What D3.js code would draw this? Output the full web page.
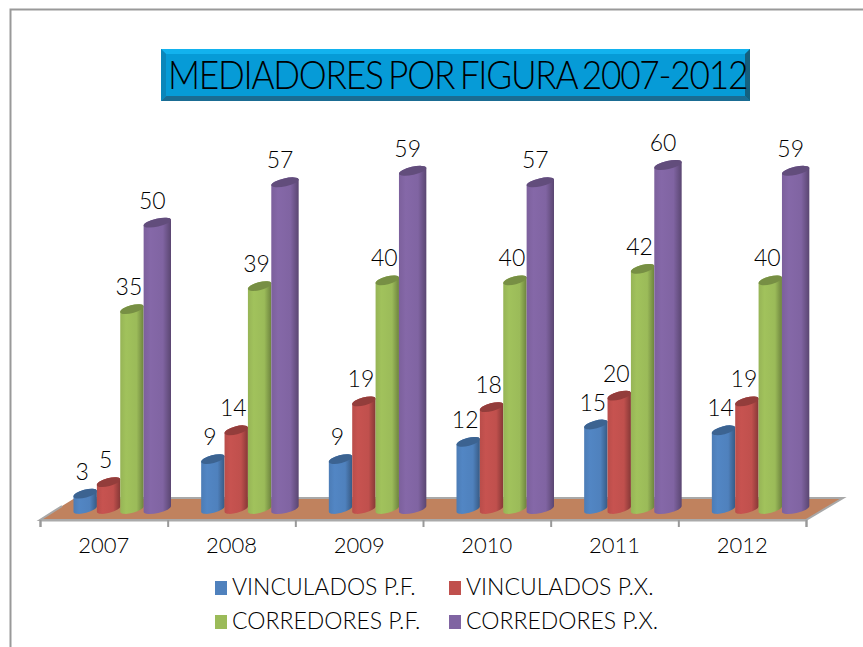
<!DOCTYPE html>
<html>
<head>
<meta charset="utf-8">
<script src="https://cdn.jsdelivr.net/npm/d3@7/dist/d3.min.js"></script>
<style>
  html, body { margin: 0; padding: 0; background: #fff; }
  svg { display: block; }
  text { font-family: Lato, "Open Sans", sans-serif; font-weight: 300; fill: #000; }
</style>
</head>
<body>
<div id="grafica"></div>
<script>
// datos
var anios = ["2007", "2008", "2009", "2010", "2011", "2012"];
var series = ["VINCULADOS P.F.", "VINCULADOS P.X.", "CORREDORES P.F.", "CORREDORES P.X."];
var vinculadosPF = [3, 9, 9, 12, 15, 14];
var vinculadosPX = [5, 14, 19, 18, 20, 19];
var corredoresPF = [35, 39, 40, 40, 42, 40];
var corredoresPX = [50, 57, 59, 57, 60, 59];
var valores = [vinculadosPF, vinculadosPX, corredoresPF, corredoresPX];
var titulo = "MEDIADORES POR FIGURA 2007-2012";

var colores = ["#4f81bd", "#c0504d", "#9bbb59", "#8064a2"];
var ancho = 863, altura = 647;

var svg = d3.select("#grafica").append("svg")
    .attr("width", ancho)
    .attr("height", altura);

// marco del grafico
svg.append("path")
    .attr("d", "M10.5,647V9.5H863")
    .attr("fill", "none")
    .attr("stroke", "#999")
    .attr("stroke-width", 2);

// titulo con bisel
var t = { x0: 161, x1: 750, y0: 49, y1: 101, b: 5 };
var cabecera = svg.append("g");
cabecera.append("rect")
    .attr("x", t.x0).attr("y", t.y0)
    .attr("width", t.x1 - t.x0).attr("height", t.y1 - t.y0)
    .attr("fill", "#069bd7");
cabecera.append("polygon")
    .attr("points", [[t.x0, t.y0], [t.x1, t.y0], [t.x1 - t.b, t.y0 + t.b], [t.x0 + t.b, t.y0 + t.b]].join(" "))
    .attr("fill", "#12b2ee");
cabecera.append("polygon")
    .attr("points", [[t.x0, t.y1], [t.x1, t.y1], [t.x1 - t.b, t.y1 - t.b], [t.x0 + t.b, t.y1 - t.b]].join(" "))
    .attr("fill", "#1a6c93");
cabecera.append("polygon")
    .attr("points", [[t.x0, t.y0], [t.x0 + t.b, t.y0 + t.b], [t.x0 + t.b, t.y1 - t.b], [t.x0, t.y1]].join(" "))
    .attr("fill", "#0a86ba");
cabecera.append("polygon")
    .attr("points", [[t.x1, t.y0], [t.x1 - t.b, t.y0 + t.b], [t.x1 - t.b, t.y1 - t.b], [t.x1, t.y1]].join(" "))
    .attr("fill", "#14607f");
cabecera.append("text")
    .attr("transform", "translate(168,89) scale(0.905,1)")
    .attr("font-size", 39)
    .attr("letter-spacing", -1.4)
    .attr("word-spacing", -3)
    .text(titulo);

// escalas
var xAnio = d3.scaleBand().domain(anios).range([40, 806]);
var xSerie = d3.scaleBand().domain(series).range([33.5, 127]);
var marcas = d3.scaleLinear().domain([0, anios.length]).range([40, 806]);
var y = d3.scaleLinear().domain([0, 60]).range([511, 165]);

// piso
svg.append("polygon")
    .attr("points", "40,520 62,506 75,498 843,498 806,520")
    .attr("fill", "#c0825e");
svg.append("path")
    .attr("d", "M75,498H843L806,520H40L62,506")
    .attr("fill", "none")
    .attr("stroke", "#a8a8a8")
    .attr("stroke-width", 2);

// ejes
var ejeMarcas = svg.append("g")
    .attr("transform", "translate(0,520)")
    .call(d3.axisBottom(marcas).tickValues(d3.range(anios.length + 1)).tickSize(7).tickFormat(""));
ejeMarcas.select(".domain").attr("stroke", "#aaa").attr("stroke-width", 2);
ejeMarcas.selectAll("line").attr("stroke", "#999").attr("stroke-width", 2);

var ejeAnios = svg.append("g")
    .attr("transform", "translate(0,520)")
    .call(d3.axisBottom(xAnio).tickSize(0).tickPadding(17));
ejeAnios.select(".domain").remove();
ejeAnios.selectAll("text")
    .attr("font-size", 22)
    .attr("font-family", "Lato");

// degradado horizontal de cada cilindro
var defs = svg.append("defs");
colores.forEach(function (c, i) {
    var g = defs.append("linearGradient").attr("id", "cil" + i);
    g.append("stop").attr("offset", "0%").attr("stop-color", d3.color(c).darker(0.1));
    g.append("stop").attr("offset", "25%").attr("stop-color", d3.color(c).brighter(0.1));
    g.append("stop").attr("offset", "70%").attr("stop-color", c);
    g.append("stop").attr("offset", "100%").attr("stop-color", d3.color(c).darker(1));
});

// cilindros
var inclina = 3;
function cuerpo(x0, x1, yArriba, yAbajo) {
    var rx = Math.hypot(x1 - x0, 2 * inclina) / 2, ry = 4;
    var giro = -Math.atan2(2 * inclina, x1 - x0) * 180 / Math.PI;
    var arco = rx + " " + ry + " " + giro;
    return "M" + x0 + "," + (yArriba + inclina) +
        "V" + (yAbajo + inclina) +
        "A" + arco + " 0 0 " + x1 + "," + (yAbajo - inclina) +
        "V" + (yArriba - inclina) +
        "A" + arco + " 0 0 " + x0 + "," + (yArriba + inclina) + "Z";
}
function tapa(x0, x1, yArriba) {
    var rx = Math.hypot(x1 - x0, 2 * inclina) / 2, ry = 4;
    var giro = -Math.atan2(2 * inclina, x1 - x0) * 180 / Math.PI;
    var arco = rx + " " + ry + " " + giro;
    return "M" + x0 + "," + (yArriba + inclina) +
        "A" + arco + " 0 0 " + x1 + "," + (yArriba - inclina) +
        "A" + arco + " 0 0 " + x0 + "," + (yArriba + inclina) + "Z";
}

series.forEach(function (s, i) {
    var capa = svg.append("g").attr("class", "serie");
    var extra = i === 3 ? 4 : 0; // la ultima serie se ve mas ancha
    var izq = function (j) { return xAnio(anios[j]) + xSerie(s); };
    var der = function (j) { return izq(j) + xSerie.bandwidth() + extra; };

    capa.selectAll("path.cuerpo")
        .data(valores[i])
        .enter().append("path")
        .attr("class", "cuerpo")
        .attr("fill", "url(#cil" + i + ")")
        .attr("d", function (d, j) { return cuerpo(izq(j), der(j), y(d), y(0) - 2); });

    capa.selectAll("path.tapa")
        .data(valores[i])
        .enter().append("path")
        .attr("class", "tapa")
        .attr("fill", d3.color(colores[i]).darker(0.75))
        .attr("d", function (d, j) { return tapa(izq(j), der(j), y(d)); });
});

// etiquetas de valor
series.forEach(function (s, i) {
    svg.append("g").selectAll("text")
        .data(valores[i])
        .enter().append("text")
        .attr("x", function (d, j) { return xAnio(anios[j]) + xSerie(s) + xSerie.bandwidth() / 2 - 3; })
        .attr("y", function (d) { return y(d) - 14; })
        .attr("text-anchor", "middle")
        .attr("font-size", 23)
        .text(function (d) { return d; });
});

// leyenda
var filas = d3.scalePoint().domain([0, 1]).range([588, 622]);
var columnas = d3.scalePoint().domain([0, 1]).range([215, 449]);
var leyenda = svg.append("g").selectAll("g")
    .data(series)
    .enter().append("g")
    .attr("transform", function (d, i) {
        return "translate(" + columnas(i % 2) + "," + filas(Math.floor(i / 2)) + ")";
    });
leyenda.append("rect")
    .attr("y", -7).attr("width", 12).attr("height", 14)
    .attr("fill", function (d, i) { return colores[i]; });
leyenda.append("text")
    .attr("x", 17).attr("y", 7)
    .attr("font-size", 23)
    .text(function (d) { return d; });
</script>
</body>
</html>
